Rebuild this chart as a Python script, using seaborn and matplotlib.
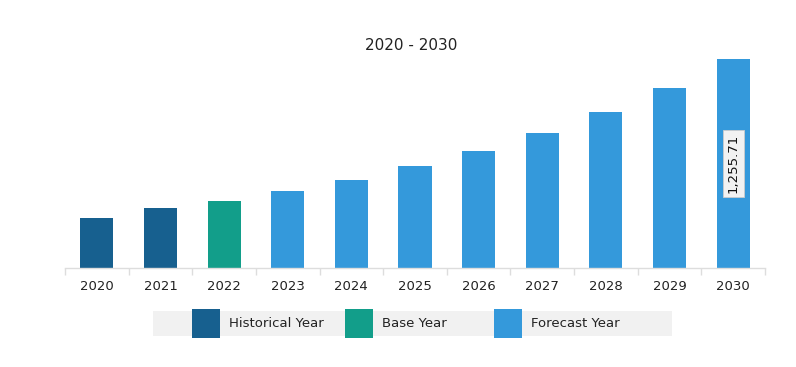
import matplotlib
matplotlib.use("Agg")
import matplotlib.pyplot as plt
import seaborn as sns
import pandas as pd
from matplotlib.patches import Rectangle

years = ["2020", "2021", "2022", "2023", "2024", "2025", "2026", "2027", "2028", "2029", "2030"]
values = [299, 359, 401, 460, 526, 610, 700, 813, 939, 1082, 1255.71]
kinds = ["Historical Year", "Historical Year", "Base Year"] + ["Forecast Year"] * 8
palette = {"Historical Year": "#17608f", "Base Year": "#129e8a", "Forecast Year": "#3499db"}

df = pd.DataFrame({"year": years, "value": values, "kind": kinds})

sns.set_theme(style="white")
plt.rcParams['font.family'] = ['DejaVu Sans']

fig = plt.figure(figsize=(7.96, 3.67), dpi=100)
ax = fig.add_axes([65 / 796, 1 - 268 / 367, 700 / 796, 228 / 367])

sns.barplot(data=df, x="year", y="value", hue="kind", palette=palette,
            dodge=False, width=0.52, ax=ax, legend=False, saturation=1, linewidth=0)

ax.set_xlim(-0.5, len(years) - 0.5)
ax.set_ylim(0, 1255.71 * 228 / 209)
ax.set_yticks([])
ax.set_xlabel("")
ax.set_ylabel("")
for s in ["top", "right", "left"]:
    ax.spines[s].set_visible(False)
ax.spines["bottom"].set_color("#dddddd")
ax.spines["bottom"].set_linewidth(1)
ax.set_xticks(range(len(years)))
ax.set_xticklabels(years, fontsize=9.5, color="#222222")
ax.tick_params(axis="x", which="major", length=0, pad=9)
ax.set_xticks([i - 0.5 for i in range(len(years) + 1)], minor=True)
ax.tick_params(axis="x", which="minor", length=5, color="#dddddd", width=1, bottom=True)

fig.text(411 / 796, 1 - 45 / 367, "2020 - 2030", ha="center", va="center", fontsize=11, color="#222222")

last = len(years) - 1
ax.text(last, values[-1] / 2, "{:,.2f}".format(values[-1]), rotation=90, ha="center", va="center",
        fontsize=9.5, color="#111111",
        bbox=dict(boxstyle="square,pad=0.3", facecolor="#f2f2f2", edgecolor="#cccccc", linewidth=0.6))

# legend band
fig.patches.append(Rectangle((153 / 796, 1 - 336 / 367), 519 / 796, 25 / 367,
                             transform=fig.transFigure, facecolor="#f1f1f1", edgecolor="none", zorder=0))
leg_items = [("Historical Year", 192), ("Base Year", 345), ("Forecast Year", 494)]
for label, x0 in leg_items:
    fig.patches.append(Rectangle((x0 / 796, 1 - 338 / 367), 28 / 796, 29 / 367,
                                 transform=fig.transFigure, facecolor=palette[label],
                                 edgecolor="none", zorder=1))
    fig.text((x0 + 37) / 796, 1 - 323.5 / 367, label, ha="left", va="center", fontsize=9.5, color="#222222")

fig.savefig("out.png", dpi=100, facecolor="white")
